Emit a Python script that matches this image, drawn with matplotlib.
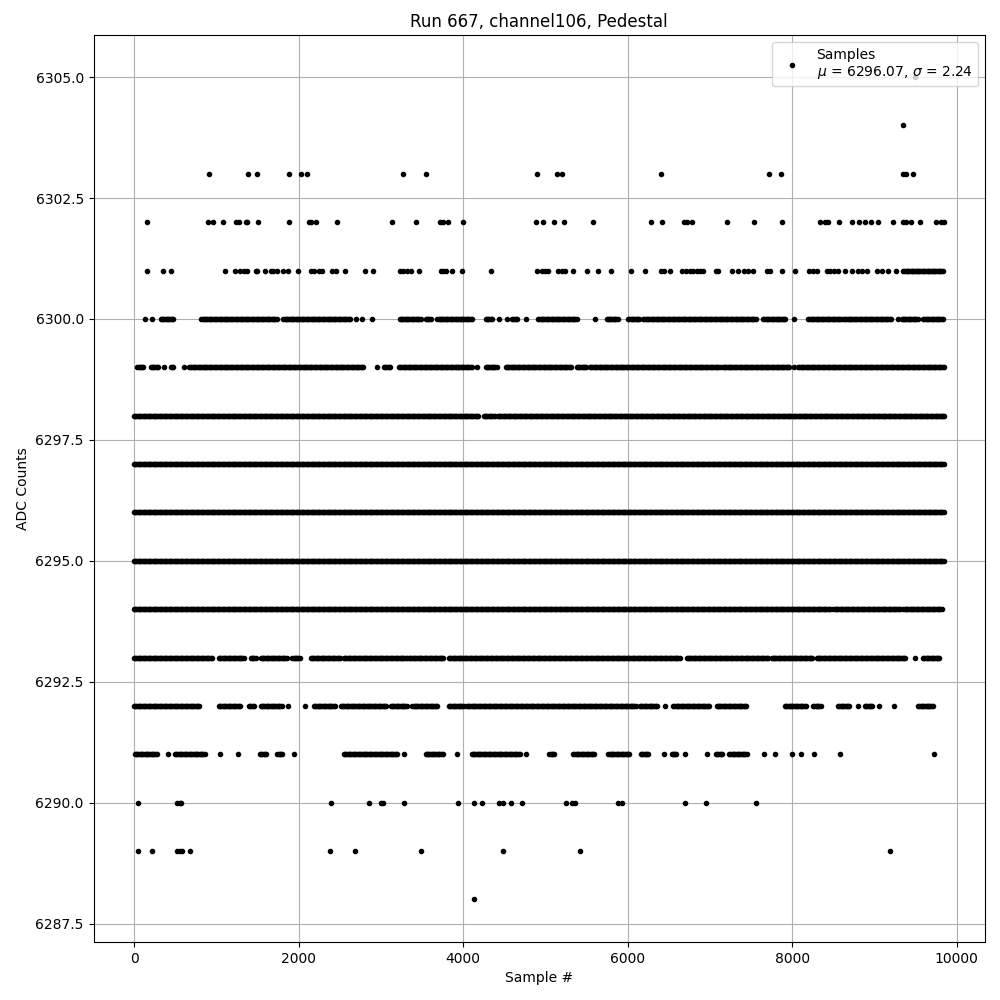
import numpy as np
import matplotlib
matplotlib.use("Agg")
import matplotlib.pyplot as plt
from matplotlib.ticker import MultipleLocator

# ADC levels and, for each, the sample ranges [start, end] where points appear
# (isolated samples are given as [s, s]).
lvl_6305 = [[9490, 9490]]
lvl_6304 = [[9348, 9348]]
lvl_6303 = [[s, s] for s in [915, 1389, 1499, 1887, 2033, 2106, 3273, 3552, 4901, 5144, 5200,
                              6407, 7720, 7866, 9348, 9388, 9469]]
lvl_6302 = [[s, s] for s in [162, 903, 964, 1085, 1243, 1280, 1357, 1377, 1511, 1887, 2126, 2155,
                              2215, 2471, 3139, 3431, 3718, 3751, 3819, 4002, 4889, 4974, 5107,
                              5229, 5581, 6278, 6416, 6683, 6715, 6776, 7201, 7537, 7878, 8335,
                              8400, 8437, 8562, 8728, 8813, 8882, 8959, 9048, 9227, 9348, 9388,
                              9449, 9554, 9745, 9802, 9842]]
lvl_6301 = [[s, s] for s in [162, 356, 446, 1110, 1231, 1288, 1337, 1369, 1482, 1499, 1588, 1661,
                              1689, 1742, 1806, 1875, 1989, 2147, 2187, 2252, 2284, 2410, 2454,
                              2568, 2811, 2908, 3232, 3273, 3313, 3362, 3459, 3726, 3759, 3787,
                              3868, 3989, 4342, 4893, 4953, 4994, 5034, 5156, 5196, 5237, 5338,
                              5500, 5642, 5800, 6043, 6213, 6399, 6440, 6513, 6654, 6703, 6756,
                              6796, 6837, 6877, 6910, 7072, 7100, 7270, 7343, 7412, 7464, 7525,
                              7688, 7728, 7878, 8035, 8206, 8254, 8303, 8417, 8457, 8505, 8558,
                              8643, 8728, 8801, 8842, 8903, 9024, 9085, 9166, 9255]] + [[9348, 9842]]
lvl_6300 = [[130, 130], [223, 223], [324, 486], [818, 1721], [1742, 1742], [1815, 2633],
            [2693, 2693], [2774, 2774], [2896, 2896], [3228, 3483], [3544, 3613], [3686, 4119],
            [4273, 4354], [4435, 4435], [4536, 4536], [4597, 4658], [4759, 4759], [4913, 5387],
            [5601, 5601], [5743, 5885], [6006, 6148], [6189, 7566], [7647, 7930], [8024, 8024],
            [8194, 8599], [8627, 9206], [9287, 9287], [9328, 9530], [9591, 9842]]
lvl_6299 = [[40, 122], [203, 304], [365, 365], [446, 486], [608, 608], [668, 2795],
            [2957, 2957], [3038, 3119], [3220, 4111], [4172, 4172], [4273, 4415], [4516, 5318],
            [5379, 5500], [5541, 7120], [7153, 7971], [8024, 8024], [8072, 9842]]
lvl_6298 = [[0, 4190], [4250, 4390], [4420, 9850]]
lvl_6297 = [[0, 9850]]
lvl_6296 = [[0, 9850]]
lvl_6295 = [[0, 9850]]
lvl_6294 = [[0, 8460], [8500, 9320], [9350, 9820]]
lvl_6293 = [[0, 952], [1033, 1337], [1418, 1478], [1539, 1863], [1924, 2025], [2147, 2511],
            [2552, 3321], [3341, 3767], [3827, 6634], [6715, 7707], [7748, 8254], [8295, 9388],
            [9490, 9490], [9591, 9793]]
lvl_6292 = [[0, 802], [1033, 1296], [1397, 1458], [1539, 1802], [1875, 1875], [2082, 2082],
            [2187, 2450], [2511, 3078], [3119, 3321], [3382, 3686], [3827, 4010], [4042, 6108],
            [6148, 6371], [6452, 6452], [6553, 6999], [7080, 7444], [7910, 8173], [8254, 8356],
            [8558, 8700], [8801, 8801], [8882, 8983], [9056, 9056], [9238, 9238], [9530, 9713]]
lvl_6291 = [[8, 292], [413, 413], [498, 871], [1045, 1045], [1264, 1264], [1531, 1612],
            [1742, 1815], [1944, 1944], [2552, 3200], [3281, 3281], [3544, 3759], [3929, 3929],
            [4103, 4690], [4767, 4767], [5047, 5115], [5338, 5601], [5764, 6019], [6160, 6250],
            [6444, 6444], [6533, 6602], [6695, 6695], [6966, 6966], [7072, 7161], [7234, 7444],
            [7659, 7659], [7793, 7793], [7999, 7999], [8108, 8108], [8266, 8266], [8582, 8582],
            [9725, 9725]]
lvl_6290 = [[s, s] for s in [53, 527, 555, 575, 2398, 2859, 3005, 3030, 3285, 3941, 4131, 4233,
                              4435, 4488, 4585, 4718, 5249, 5318, 5358, 5885, 5926, 6699, 6954,
                              7561]]
lvl_6289 = [[s, s] for s in [53, 223, 527, 559, 587, 684, 2386, 2689, 3491, 4488, 5423, 9190]]
lvl_6288 = [[4131, 4131]]

levels = [6305, 6304, 6303, 6302, 6301, 6300, 6299, 6298, 6297, 6296, 6295, 6294,
          6293, 6292, 6291, 6290, 6289, 6288]
ranges = [lvl_6305, lvl_6304, lvl_6303, lvl_6302, lvl_6301, lvl_6300, lvl_6299, lvl_6298,
          lvl_6297, lvl_6296, lvl_6295, lvl_6294, lvl_6293, lvl_6292, lvl_6291, lvl_6290,
          lvl_6289, lvl_6288]

run = 667
channel = 106
mean_val = 6296.07
sigma_val = 2.24

xs, ys = [], []
for lv, segs in zip(levels, ranges):
    for a, b in segs:
        pts = np.arange(a, b + 1, 15) if b > a else np.array([a])
        xs.append(pts)
        ys.append(np.full(len(pts), lv))
x = np.concatenate(xs)
y = np.concatenate(ys)
order = np.argsort(x, kind="stable")
x, y = x[order], y[order]

fig, ax = plt.subplots(figsize=(10, 10), dpi=100)
ax.plot(x, y, "k.", linestyle="none",
        label=f"Samples\n$\\mu$ = {mean_val:.2f}, $\\sigma$ = {sigma_val:.2f}")
ax.set_title(f"Run {run}, channel{channel}, Pedestal")
ax.set_xlabel("Sample #")
ax.set_ylabel("ADC Counts")
ax.set_ylim(6287.12, 6305.87)
ax.yaxis.set_major_locator(MultipleLocator(2.5))
ax.grid(True)
ax.legend(loc="upper right")
fig.subplots_adjust(left=0.0935, right=0.985, top=0.965, bottom=0.058)
fig.savefig("out.png", dpi=100)
